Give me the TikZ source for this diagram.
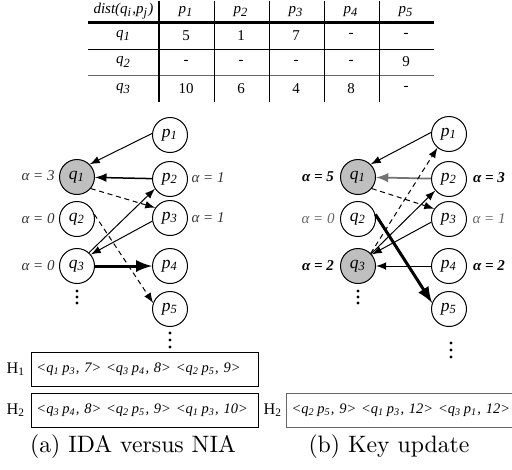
\documentclass[tikz,border=0pt]{standalone}
\usepackage{fontspec}
\newfontfamily\tms{Liberation Serif}
\usetikzlibrary{matrix,arrows}
\newcommand{\ix}[2]{#1\textsubscript{#2}}

\begin{document}
\begin{tikzpicture}[x=0.4pt,y=-0.4pt,>=latex]
      \tikzstyle{pt} = [circle, draw, thin, minimum size=14pt, inner sep=0pt, font=\tms\itshape\fontsize{7}{8}\selectfont]
      \tikzstyle{hit} = [pt, fill=black!25]
      \tikzstyle{cell} = [minimum width=22pt, minimum height=10.4pt, inner sep=0pt, font=\tms\fontsize{6}{7}\selectfont]
      \tikzstyle{head} = [cell, minimum height=8.4pt, font=\tms\itshape\fontsize{6}{7}\selectfont]
      \tikzstyle{first} = [cell, minimum width=28pt, font=\tms\itshape\fontsize{6}{7}\selectfont]
      \tikzstyle{lbl} = [font=\tms\itshape\fontsize{6}{7}\selectfont, text=black!80]
      \tikzstyle{blbl} = [font=\tms\bfseries\itshape\fontsize{6}{7}\selectfont]
      \tikzstyle{heap} = [draw, thin, anchor=west, inner sep=2pt, text width=86.8pt, minimum height=13.6pt, align=left, font=\tms\itshape\fontsize{5.8}{7}\selectfont]
      \tikzstyle{hlbl} = [font=\tms\fontsize{6.5}{7}\selectfont]
      \tikzstyle{dot} = [circle, fill, inner sep=0pt, minimum size=1.3pt]
      \tikzstyle{dsh} = [dash pattern=on 2pt off 1.5pt]
      \useasboundingbox (0,0) rectangle (512,469);
      % distance table
      \matrix (tab) [anchor=north west, inner sep=0pt, row sep=0pt, column sep=0pt] at (88,0) {
        \node (h0) [head, minimum width=28pt] {dist(\ix{q}{i},\ix{p}{j})};&
        \node (h1) [head] {\ix{p}{1}};&
        \node (h2) [head] {\ix{p}{2}};&
        \node (h3) [head] {\ix{p}{3}};&
        \node (h4) [head] {\ix{p}{4}};&
        \node (h5) [head] {\ix{p}{5}};\\
        % q1
        \node (a0) [first] {\ix{q}{1}};&
        \node (a1) [cell] {5};&
        \node (a2) [cell] {1};&
        \node (a3) [cell] {7};&
        \node (a4) [cell] {-};&
        \node (a5) [cell] {-};\\
        % q2
        \node (b0) [first] {\ix{q}{2}};&
        \node (b1) [cell] {-};&
        \node (b2) [cell] {-};&
        \node (b3) [cell] {-};&
        \node (b4) [cell] {-};&
        \node (b5) [cell] {9};\\
        % q3
        \node (c0) [first] {\ix{q}{3}};&
        \node (c1) [cell] {10};&
        \node (c2) [cell] {6};&
        \node (c3) [cell] {4};&
        \node (c4) [cell] {8};&
        \node (c5) [cell] {-};\\
      };
      \draw [line width=1pt] (h0.south west)--(h5.south east);
      \draw [thin] (a0.south west)--(a5.south east);
      \draw [thin,black!60] (b0.south west)--(b5.south east);
      \draw [line width=1pt] (h0.north east)--(c0.south east);
      \foreach \i in {1,...,4}
        \draw [thin] (h\i.north east)--(c\i.south east);
      % (a) IDA versus NIA
      \node (q1) [hit] at (77,177) {\ix{q}{1}};
      \node (q2) [pt] at (77,219) {\ix{q}{2}};
      \node (q3) [pt] at (77,266) {\ix{q}{3}};
      \node (p1) [pt] at (170,135) {\ix{p}{1}};
      \node (p2) [pt] at (170,179) {\ix{p}{2}};
      \node (p3) [pt] at (170,218) {\ix{p}{3}};
      \node (p4) [pt] at (170,266) {\ix{p}{4}};
      \node (p5) [pt] at (170,309) {\ix{p}{5}};
      \node (aq1) [lbl] at (38,176) {α = 3};
      \node (aq2) [lbl] at (38,219) {α = 0};
      \node (aq3) [lbl] at (38,266) {α = 0};
      \node (ap2) [lbl] at (208,178) {α = 1};
      \node (ap3) [lbl] at (208,218) {α = 1};
      \draw [thin,->] (p1.175)--(q1.45);
      \draw [semithick,->] (p2)--(q1);
      \draw [thin,dsh,->] (q1.-40)--(p3.145);
      \draw [thin,->] (q3.48)--(p2.213);
      \draw [thin,->] (p3.190)--(q3.40);
      \draw [line width=1.2pt,->] (q3)--(p4);
      \draw [thin,dsh,->] (q2.15)--(p5.160);
      \foreach \y in {291,297,303}
        \node (dq\y) [dot] at (77,\y) {};
      \foreach \y in {333,340,347}
        \node (dp\y) [dot] at (170,\y) {};
      % (b) Key update
      \node (r1) [hit] at (358,177) {\ix{q}{1}};
      \node (r2) [pt] at (358,219) {\ix{q}{2}};
      \node (r3) [hit] at (358,266) {\ix{q}{3}};
      \node (s1) [pt] at (449,134) {\ix{p}{1}};
      \node (s2) [pt] at (449,179) {\ix{p}{2}};
      \node (s3) [pt] at (449,219) {\ix{p}{3}};
      \node (s4) [pt] at (449,266) {\ix{p}{4}};
      \node (s5) [pt] at (449,309) {\ix{p}{5}};
      \node (ar1) [blbl] at (318,177) {α = 5};
      \node (ar2) [lbl, text=black!60] at (318,219) {α = 0};
      \node (ar3) [blbl] at (318,266) {α = 2};
      \node (as2) [blbl] at (489,178) {α = 3};
      \node (as3) [lbl, text=black!60] at (489,219) {α = 1};
      \node (as4) [blbl] at (489,266) {α = 2};
      \draw [thin,->] (s1.175)--(r1.45);
      \draw [line width=0.7pt,black!55,->] (s2)--(r1);
      \draw [thin,dsh,->] (r1.-40)--(s3.145);
      \draw [thin,dsh,->] (r3.45)--(s1.230);
      \draw [thin,->] (r3.43)--(s2.220);
      \draw [thin,->] (s3.190)--(r3.40);
      \draw [thin,->] (s4)--(r3);
      \draw [line width=1.2pt,->] (r2.15)--(s5.160);
      \foreach \y in {291,297,303}
        \node (dr\y) [dot] at (358,\y) {};
      \foreach \y in {343,350,357}
        \node (ds\y) [dot] at (451,\y) {};
      % heaps
      \node (hh1) [hlbl] at (16,369) {H\textsubscript{1}};
      \node (heap1) [heap] at (31,369) {\mbox{<\ix{q}{1}\,\ix{p}{3}, 7> <\ix{q}{3}\,\ix{p}{4}, 8> <\ix{q}{2}\,\ix{p}{5}, 9>}};
      \node (hh2) [hlbl] at (16,410) {H\textsubscript{2}};
      \node (heap2) [heap] at (31,410) {\mbox{<\ix{q}{3}\,\ix{p}{4}, 8> <\ix{q}{2}\,\ix{p}{5}, 9> <\ix{q}{1}\,\ix{p}{3}, 10>}};
      \node (hh3) [hlbl] at (273,410) {H\textsubscript{2}};
      \node (heap3) [heap, draw=black!60] at (286,410) {\mbox{<\ix{q}{2}\,\ix{p}{5}, 9> <\ix{q}{1}\,\ix{p}{3}, 12> <\ix{q}{3}\,\ix{p}{1}, 12>}};
      % captions
      \node (capa) [font=\fontsize{9.5}{11}\selectfont] at (133,447) {(a) IDA versus NIA};
      \node (capb) [font=\fontsize{9.5}{11}\selectfont] at (389,447) {(b) Key update};
\end{tikzpicture}
\end{document}
